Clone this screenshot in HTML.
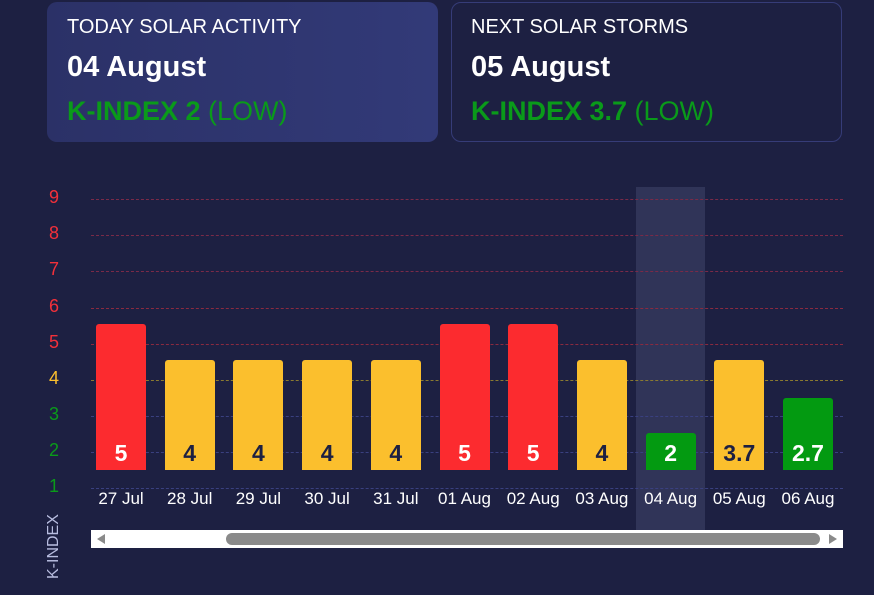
<!DOCTYPE html>
<html><head><style>
body{margin:0;width:874px;height:595px;background:#1d2042;font-family:"Liberation Sans",sans-serif;position:relative;overflow:hidden}
.card{position:absolute;top:2px;width:391px;height:140px;border-radius:10px;box-sizing:border-box;color:#fff}
.c1{left:47px;background:linear-gradient(90deg,#2b3167,#323a78)}
.c2{left:451px;border:1px solid #363c78}
.t{position:absolute;left:20px;top:14px;font-size:20px}
.d{position:absolute;left:20px;top:49px;font-size:29px;font-weight:bold}
.k{position:absolute;left:20px;top:94px;font-size:27px;color:#0a9a1a}
.c2 .t,.c2 .d,.c2 .k{left:19px;top:13px}
.c2 .d{top:48px}.c2 .k{top:93px}
.yl{position:absolute;left:46px;width:16px;text-align:center;font-size:18px}
.g{position:absolute;left:91px;width:752px;border-top:1px dashed}
.bar{position:absolute;width:50px;border-radius:3px 3px 0 0;bottom:125px}
.v{position:absolute;width:50px;top:440px;text-align:center;font-size:23px;font-weight:bold}
.x{position:absolute;width:70px;top:489px;text-align:center;font-size:17px;color:#fff}
</style></head><body>
<div class="card c1"><div class="t">TODAY SOLAR ACTIVITY</div><div class="d">04 August</div><div class="k"><b>K-INDEX 2</b> (LOW)</div></div>
<div class="card c2"><div class="t">NEXT SOLAR STORMS</div><div class="d">05 August</div><div class="k"><b>K-INDEX 3.7</b> (LOW)</div></div>
<div style="position:absolute;left:636px;top:187px;width:69px;height:343px;background:#303458"></div>
<div class="g" style="top:199px;border-color:#7a2a48"></div>
<div class="g" style="top:235px;border-color:#7a2a48"></div>
<div class="g" style="top:271px;border-color:#7a2a48"></div>
<div class="g" style="top:308px;border-color:#8a2a40"></div>
<div class="g" style="top:344px;border-color:#8a2a40"></div>
<div class="g" style="top:380px;border-color:#8a7a30"></div>
<div class="g" style="top:416px;border-color:#3a4080"></div>
<div class="g" style="top:452px;border-color:#3a4080"></div>
<div class="g" style="top:488px;border-color:#3a4080"></div>
<div class="yl" style="top:187px;color:#f2303a">9</div>
<div class="yl" style="top:223px;color:#f2303a">8</div>
<div class="yl" style="top:259px;color:#f2303a">7</div>
<div class="yl" style="top:296px;color:#f2303a">6</div>
<div class="yl" style="top:332px;color:#f2303a">5</div>
<div class="yl" style="top:368px;color:#fbbf2d">4</div>
<div class="yl" style="top:404px;color:#0a9a1a">3</div>
<div class="yl" style="top:440px;color:#0a9a1a">2</div>
<div class="yl" style="top:476px;color:#0a9a1a">1</div>
<div style="position:absolute;left:45px;top:579px;transform:rotate(-90deg);transform-origin:0 0;font-size:16px;color:#b8bde0">K-INDEX</div>
<div id="bars"></div>
<script>
var d=[[5,"27 Jul"],[4,"28 Jul"],[4,"29 Jul"],[4,"30 Jul"],[4,"31 Jul"],[5,"01 Aug"],[5,"02 Aug"],[4,"03 Aug"],[2,"04 Aug"],[3.7,"05 Aug"],[2.7,"06 Aug"]];
var h={5:146,4:110,2:37,3.7:110,2.7:72};var s="";
d.forEach(function(e,i){var x=96+i*68.7;var v=e[0];var c=v>=5?"#fc2b2f":(v>=3.5?"#fbbf2d":"#039a11");var tc=(c=="#fbbf2d")?"#1d2042":"#fff";
s+='<div class="bar" style="left:'+x+'px;height:'+h[v]+'px;background:'+c+'"></div><div class="v" style="left:'+x+'px;color:'+tc+'">'+v+'</div><div class="x" style="left:'+(x-10)+'px">'+e[1]+'</div>';});
document.getElementById("bars").innerHTML=s;
</script>
<div style="position:absolute;left:91px;top:530px;width:752px;height:18px;background:#fff"></div>
<div style="position:absolute;left:226px;top:533px;width:594px;height:12px;border-radius:6px;background:#8a8a8a"></div>
<div style="position:absolute;left:97px;top:534px;width:0;height:0;border-top:5px solid transparent;border-bottom:5px solid transparent;border-right:8px solid #8a8a8a"></div>
<div style="position:absolute;left:829px;top:534px;width:0;height:0;border-top:5px solid transparent;border-bottom:5px solid transparent;border-left:8px solid #8a8a8a"></div>
</body></html>
